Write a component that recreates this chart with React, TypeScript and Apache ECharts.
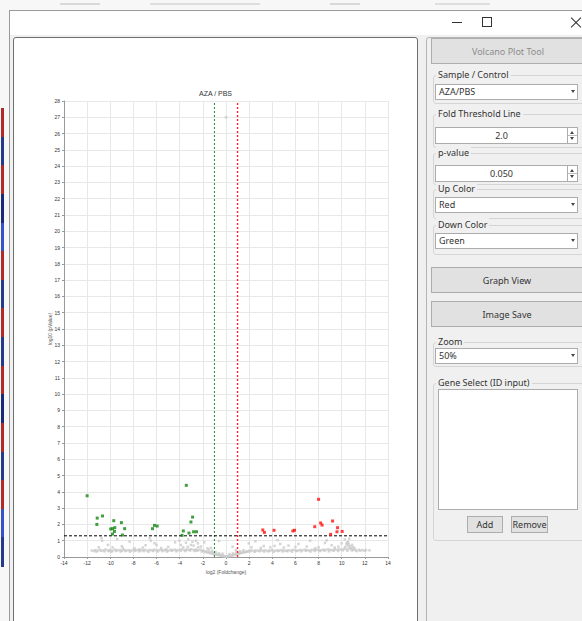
import React, { useEffect, useRef } from "react";
import * as echarts from "echarts";

// ---- chart data ----
const chartTitle = "AZA / PBS";
const xAxisName = "log2 (Foldchange)";
const yAxisName = "log10 (pValue)";
const xMin = -14;
const xMax = 14;
const yMin = 0;
const yMax = 28;
const foldLine = 1; // log2(2.0)
const pLine = 1.301; // -log10(0.050)

const downPoints: number[][] = [
  [-12.0, 3.76], [-11.13, 2.39], [-10.67, 2.52], [-11.16, 2.0], [-9.7, 2.23], [-9.04, 2.11],
  [-9.96, 1.72], [-9.81, 1.74], [-9.61, 1.8], [-9.64, 1.57], [-9.81, 1.41], [-8.95, 1.35],
  [-8.76, 1.74], [-6.18, 1.94], [-5.95, 1.9], [-6.35, 1.74], [-3.43, 4.4], [-2.89, 2.45],
  [-3.03, 2.15], [-3.69, 1.6], [-3.2, 1.47], [-2.8, 1.55], [-2.55, 1.55], [-3.8, 1.33],
];

const upPoints: number[][] = [
  [8.0, 3.54], [9.21, 2.21], [8.18, 2.09], [8.3, 1.96], [7.67, 1.86], [9.64, 1.8], [9.59, 1.55],
  [10.04, 1.57], [9.04, 1.39], [3.18, 1.66], [3.32, 1.51], [4.15, 1.64], [5.78, 1.6], [5.92, 1.64],
];

const otherPoints: number[][] = [
  [0.0, 27.0],
  [-11.6, 0.4], [-11.3, 0.42], [-11.1, 0.39], [-10.9, 0.44], [-10.6, 0.41], [-10.4, 0.46], [-10.2, 0.4],
  [-10.0, 0.43], [-9.8, 0.39], [-9.6, 0.45], [-9.4, 0.41], [-9.2, 0.43], [-9.0, 0.38], [-8.8, 0.44],
  [-8.6, 0.4], [-8.4, 0.42], [-8.2, 0.39], [-8.0, 0.45], [-7.8, 0.41], [-7.6, 0.43], [-7.4, 0.4],
  [-7.2, 0.42], [-7.0, 0.44], [-6.8, 0.39], [-6.6, 0.43], [-6.4, 0.41], [-6.2, 0.45], [-6.0, 0.4],
  [-5.8, 0.42], [-5.6, 0.44], [-5.4, 0.41], [-5.2, 0.43], [-5.0, 0.39], [-4.8, 0.44], [-4.6, 0.42],
  [-4.4, 0.45], [-4.2, 0.41], [-4.0, 0.43], [-3.8, 0.47], [-3.6, 0.42], [-3.4, 0.46], [-3.2, 0.44],
  [-3.0, 0.48], [-2.8, 0.43], [-2.6, 0.46], [-2.4, 0.42], [-2.2, 0.45], [-2.0, 0.4],
  [-11.2, 0.33], [-10.5, 0.35], [-9.9, 0.32], [-9.1, 0.34], [-8.3, 0.33], [-7.5, 0.35], [-6.7, 0.32],
  [-5.9, 0.34], [-5.1, 0.33], [-4.3, 0.35], [-3.5, 0.36], [-2.7, 0.37], [-2.1, 0.34],
  [-11.4, 0.37], [-10.8, 0.38], [-10.1, 0.36], [-9.5, 0.37], [-8.7, 0.36], [-7.9, 0.37], [-7.1, 0.36],
  [-6.3, 0.37], [-5.5, 0.36], [-4.7, 0.38], [-3.9, 0.39], [-3.1, 0.4], [-2.5, 0.39],
  [-1.9, 0.36], [-1.8, 0.3], [-1.7, 0.34], [-1.6, 0.27], [-1.5, 0.31], [-1.4, 0.24], [-1.3, 0.28],
  [-1.2, 0.2], [-1.1, 0.23], [-1.0, 0.17], [-0.9, 0.19], [-0.8, 0.13], [-0.7, 0.15], [-0.6, 0.1],
  [-0.5, 0.12], [-0.4, 0.07], [-0.3, 0.09], [-0.2, 0.05], [-0.1, 0.03], [0.0, 0.02], [0.1, 0.03],
  [0.2, 0.06], [0.3, 0.05], [0.4, 0.09], [0.5, 0.08], [0.6, 0.13], [0.7, 0.12], [0.8, 0.17],
  [0.9, 0.16], [1.0, 0.21], [1.1, 0.2], [1.2, 0.25], [1.3, 0.24], [1.4, 0.28], [1.5, 0.27],
  [1.6, 0.31], [1.7, 0.3], [1.8, 0.34], [1.9, 0.33],
  [-1.5, 0.45], [-1.2, 0.38], [-0.9, 0.3], [-0.6, 0.22], [0.6, 0.22], [0.9, 0.3], [1.2, 0.36],
  [1.5, 0.42], [-0.6, 0.98], [0.57, 0.63], [0.86, 0.43], [-1.3, 0.55], [-1.6, 0.53], [-0.3, 0.2],
  [0.3, 0.18],
  [2.0, 0.38], [2.2, 0.41], [2.4, 0.37], [2.6, 0.4], [2.8, 0.38], [3.0, 0.42], [3.2, 0.39],
  [3.4, 0.41], [3.6, 0.37], [3.8, 0.4], [4.0, 0.42], [4.2, 0.38], [4.4, 0.41], [4.6, 0.39],
  [4.8, 0.43], [5.0, 0.4], [5.2, 0.38], [5.4, 0.42], [5.6, 0.4], [5.8, 0.44], [6.0, 0.41],
  [6.2, 0.39], [6.4, 0.43], [6.6, 0.41], [6.8, 0.45], [7.0, 0.42], [7.2, 0.4], [7.4, 0.44],
  [7.6, 0.42], [7.8, 0.46], [8.0, 0.43], [8.2, 0.41], [8.4, 0.45], [8.6, 0.43], [8.8, 0.47],
  [9.0, 0.44], [9.2, 0.42], [9.4, 0.46], [9.6, 0.44], [9.8, 0.48], [10.0, 0.45], [10.2, 0.5],
  [10.4, 0.47], [10.6, 0.52], [10.8, 0.48], [11.0, 0.45], [11.2, 0.43], [11.5, 0.44], [11.8, 0.42],
  [12.1, 0.43], [12.4, 0.41],
  [2.5, 0.32], [3.3, 0.33], [4.1, 0.31], [4.9, 0.34], [5.7, 0.33], [6.5, 0.35], [7.3, 0.34],
  [8.1, 0.36], [8.9, 0.35], [9.7, 0.37], [10.5, 0.38], [11.3, 0.36],
  [2.1, 0.35], [2.9, 0.36], [3.7, 0.35], [4.5, 0.37], [5.3, 0.36], [6.1, 0.37], [6.9, 0.38],
  [7.7, 0.37], [8.5, 0.39], [9.3, 0.38], [10.1, 0.41], [10.9, 0.4], [11.6, 0.39], [12.0, 0.38],
  [10.3, 0.62], [10.5, 0.7], [10.6, 0.78], [10.7, 0.66], [10.8, 0.58], [10.9, 0.74], [10.4, 0.82],
  [10.55, 0.92], [10.65, 1.12], [10.27, 1.08], [10.5, 0.88], [11.0, 0.6], [11.1, 0.53],
  [1.97, 0.84], [2.54, 0.96], [3.26, 0.67], [3.83, 0.59], [4.46, 1.04], [4.69, 0.8], [5.4, 0.7],
  [6.26, 0.8], [6.98, 0.64], [7.27, 1.0], [7.7, 0.53], [8.55, 0.86], [8.7, 1.02], [9.13, 0.72],
  [9.7, 0.64], [9.99, 0.84], [3.0, 0.55], [5.0, 0.58], [6.0, 0.62], [8.0, 0.6], [2.2, 0.6],
  [4.2, 0.68], [9.4, 0.58],
  [-10.76, 1.16], [-10.7, 1.0], [-10.2, 0.74], [-9.8, 0.59], [-9.41, 1.1], [-8.92, 0.53],
  [-8.33, 0.94], [-7.9, 0.53], [-7.47, 0.47], [-6.95, 0.72], [-6.6, 1.16], [-6.5, 1.0],
  [-6.18, 0.84], [-6.0, 0.74], [-5.6, 0.55], [-5.18, 0.47], [-4.4, 0.9], [-4.03, 1.0],
  [-3.9, 0.74], [-3.46, 0.88], [-3.26, 1.08], [-3.03, 0.74], [-2.9, 0.94], [-2.6, 1.0],
  [-2.43, 0.84], [-2.17, 0.64], [-1.88, 0.9], [-11.0, 0.6], [-9.0, 0.66], [-7.2, 0.58],
  [-5.0, 0.62], [-3.7, 0.6], [-2.8, 0.7], [-3.3, 0.62], [-2.4, 0.6],
];

// ---- UI texts ----
const appTitle = "Volcano Plot Tool";
const sampleValue = "AZA/PBS";
const foldValue = "2.0";
const pValue = "0.050";
const upColorName = "Red";
const downColorName = "Green";
const zoomValue = "50%";
const stripeColors = ["#b02a2a", "#243a8c", "#b02a2a", "#1a2a7a", "#3553c4", "#b02a2a", "#243a8c", "#b02a2a", "#243a8c", "#b02a2a", "#1a2a7a", "#b02a2a", "#243a8c", "#b02a2a", "#3553c4", "#243a8c"];

const FONT = "'Noto Sans', 'Open Sans', sans-serif";
const CFONT = "'Liberation Sans', 'Noto Sans', sans-serif";

function dashedLine(data: number[][], color: string, dash: number[], width = 1) {
  return {
    type: "line",
    data,
    symbol: "none",
    silent: true,
    z: 3,
    color,
    itemStyle: { color },
    lineStyle: { color, type: dash, width, opacity: 1 },
  };
}

function Chart() {
  const ref = useRef<HTMLDivElement>(null);
  useEffect(() => {
    if (!ref.current) return;
    const chart = echarts.init(ref.current, undefined, { renderer: "svg" });
    const axisCommon = {
      type: "value" as const,
      nameLocation: "middle" as const,
      nameMoveOverlap: false,
      nameTextStyle: { fontSize: 5, color: "#555", fontFamily: CFONT },
      axisLine: { show: true, onZero: false, lineStyle: { color: "#999", width: 1 } },
      axisTick: { show: true, length: 2, lineStyle: { color: "#999" } },
      axisLabel: { fontSize: 5, color: "#333", fontFamily: CFONT },
      splitLine: { show: true, lineStyle: { color: "#e8e8e8", width: 1 } },
    };
    chart.setOption({
      animation: false,
      title: {
        text: chartTitle,
        left: "center",
        top: 47,
        textStyle: { fontSize: 7, fontWeight: "normal", color: "#333", fontFamily: CFONT },
      },
      grid: { left: 50, top: 63, width: 324, height: 456 },
      xAxis: {
        ...axisCommon,
        min: xMin,
        max: xMax,
        interval: 2,
        name: xAxisName,
        nameGap: 12,
        axisLabel: { ...axisCommon.axisLabel, margin: 3 },
      },
      yAxis: {
        ...axisCommon,
        min: yMin,
        max: yMax,
        interval: 1,
        name: yAxisName,
        nameGap: 12,
        axisLabel: { ...axisCommon.axisLabel, margin: 4 },
      },
      series: [
        {
          type: "scatter",
          data: otherPoints,
          symbol: "rect",
          symbolSize: 2.5,
          itemStyle: { color: "#cacaca" },
          silent: true,
        },
        dashedLine([[-foldLine, yMin], [-foldLine, yMax]], "#1e8a1e", [2, 2]),
        dashedLine([[foldLine, yMin], [foldLine, yMax]], "#ff2626", [2, 2], 1.4),
        dashedLine([[xMin, pLine], [xMax, pLine]], "#000000", [3, 2]),
        {
          type: "scatter",
          data: downPoints,
          symbol: "rect",
          symbolSize: 3,
          z: 4,
          itemStyle: { color: "#118a11" },
        },
        {
          type: "scatter",
          data: upPoints,
          symbol: "rect",
          symbolSize: 3,
          z: 4,
          itemStyle: { color: "#ff1010" },
        },
      ],
    });
    return () => chart.dispose();
  }, []);
  return <div ref={ref} style={{ position: "absolute", left: 14, top: 38, width: 403, height: 583 }} />;
}

const abs = (l: number, t: number, w: number, h: number, extra: React.CSSProperties = {}): React.CSSProperties => ({
  position: "absolute",
  left: l,
  top: t,
  width: w,
  height: h,
  boxSizing: "border-box",
  ...extra,
});

function Group({ label, top, height }: { label: string; top: number; height: number }) {
  return (
    <>
      <div style={abs(433, top, 152, height, { border: "1px solid #d5d5d5", borderRadius: 3 })} />
      <div
        style={{
          position: "absolute",
          left: 436,
          top: top - 7,
          padding: "0 2px",
          background: "#f0f0f0",
          fontSize: 9,
          lineHeight: "13px",
          color: "#333",
          fontFamily: FONT,
          whiteSpace: "nowrap",
        }}
      >
        {label}
      </div>
    </>
  );
}

function Combo({ top, text }: { top: number; text: string }) {
  return (
    <div style={abs(435, top, 143, 16, { border: "1px solid #acacac", background: "#fff" })}>
      <div style={{ position: "absolute", left: 3, top: 0, fontSize: 9, lineHeight: "14px", color: "#333", fontFamily: FONT }}>{text}</div>
      <div style={{ position: "absolute", right: 2, top: 5, width: 0, height: 0, borderLeft: "2.5px solid transparent", borderRight: "2.5px solid transparent", borderTop: "3px solid #444" }} />
    </div>
  );
}

function Numeric({ top, text }: { top: number; text: string }) {
  return (
    <>
      <div style={abs(435, top, 133, 17, { border: "1px solid #acacac", background: "#fff" })}>
        <div style={{ position: "absolute", left: 0, width: "100%", textAlign: "center", top: 0, fontSize: 9, lineHeight: "15px", color: "#333", fontFamily: FONT }}>{text}</div>
      </div>
      <div style={abs(567, top, 11, 17, { border: "1px solid #acacac", background: "#fff" })}>
        <div style={{ position: "absolute", left: 2, top: 3, width: 0, height: 0, borderLeft: "2.5px solid transparent", borderRight: "2.5px solid transparent", borderBottom: "3px solid #444" }} />
        <div style={{ position: "absolute", left: 0, top: 7, width: 9, height: 1, background: "#bbb" }} />
        <div style={{ position: "absolute", left: 2, top: 9, width: 0, height: 0, borderLeft: "2.5px solid transparent", borderRight: "2.5px solid transparent", borderTop: "3px solid #444" }} />
      </div>
    </>
  );
}

function Button({ l, t, w, h, text, color = "#333" }: { l: number; t: number; w: number; h: number; text: string; color?: string }) {
  return (
    <div
      style={abs(l, t, w, h, {
        border: "1px solid #adadad",
        background: "#e1e1e1",
        color,
        fontSize: 9,
        fontFamily: FONT,
        display: "flex",
        alignItems: "center",
        justifyContent: "center",
      })}
    >
      {text}
    </div>
  );
}

export default function App() {
  useEffect(() => {
    document.body.style.margin = "0";
  }, []);
  const stripeTop = 108;
  const stripeBottom = 566;
  const seg = (stripeBottom - stripeTop) / stripeColors.length;
  return (
    <div style={{ position: "fixed", left: 0, top: 0, width: 582, height: 621, overflow: "hidden", background: "#f7f7f7" }}>
      {/* background strip elements */}
      <div style={abs(60, 3, 40, 2, { background: "#d8d8d8" })} />
      <div style={abs(150, 3, 110, 2, { background: "#dedede" })} />
      <div style={abs(330, 3, 30, 2, { background: "#d8d8d8" })} />
      <div style={abs(435, 3, 55, 2, { background: "#dedede" })} />
      {stripeColors.map((c, i) => (
        <div key={i} style={abs(1, stripeTop + i * seg, 3, seg + 0.5, { background: c })} />
      ))}
      {/* window */}
      <div style={abs(9, 10, 580, 620, { borderLeft: "1px solid #9a9a9a", borderTop: "1px solid #9a9a9a", background: "#f0f0f0" })} />
      <div style={abs(10, 11, 580, 24, { background: "#fff" })} />
      {/* title bar buttons */}
      <div style={abs(452, 22, 10, 1, { background: "#333" })} />
      <div style={abs(482, 17, 10, 10, { border: "1px solid #333" })} />
      <div style={abs(569, 22, 14, 1, { background: "#333", transform: "rotate(45deg)" })} />
      <div style={abs(569, 22, 14, 1, { background: "#333", transform: "rotate(-45deg)" })} />
      {/* chart panel */}
      <div style={abs(13, 37, 405, 600, { border: "1px solid #6e6e6e", borderRadius: 3, background: "#fff" })} />
      <Chart />
      {/* right panel */}
      <div style={abs(426, 37, 170, 600, { border: "1px solid #b4b4b4", borderRadius: 3 })} />
      <Button l={431} t={38} w={154} h={26} text={appTitle} color="#8c8c8c" />
      <Group label="Sample / Control" top={75} height={29} />
      <Combo top={84} text={sampleValue} />
      <Group label="Fold Threshold Line" top={114} height={34} />
      <Numeric top={127} text={foldValue} />
      <Group label="p-value" top={153} height={32} />
      <Numeric top={165} text={pValue} />
      <Group label="Up Color" top={189} height={30} />
      <Combo top={197} text={upColorName} />
      <Group label="Down Color" top={225} height={30} />
      <Combo top={233} text={downColorName} />
      <Button l={431} t={267} w={152} h={26} text="Graph View" />
      <Button l={431} t={301} w={152} h={26} text="Image Save" />
      <Group label="Zoom" top={342} height={25} />
      <Combo top={348} text={zoomValue} />
      <Group label="Gene Select (ID input)" top={383} height={158} />
      <div style={abs(438, 389, 140, 121, { border: "1px solid #acacac", background: "#fff" })} />
      <Button l={467} t={516} w={36} h={17} text="Add" />
      <Button l={511} t={516} w={37} h={17} text="Remove" />
    </div>
  );
}
